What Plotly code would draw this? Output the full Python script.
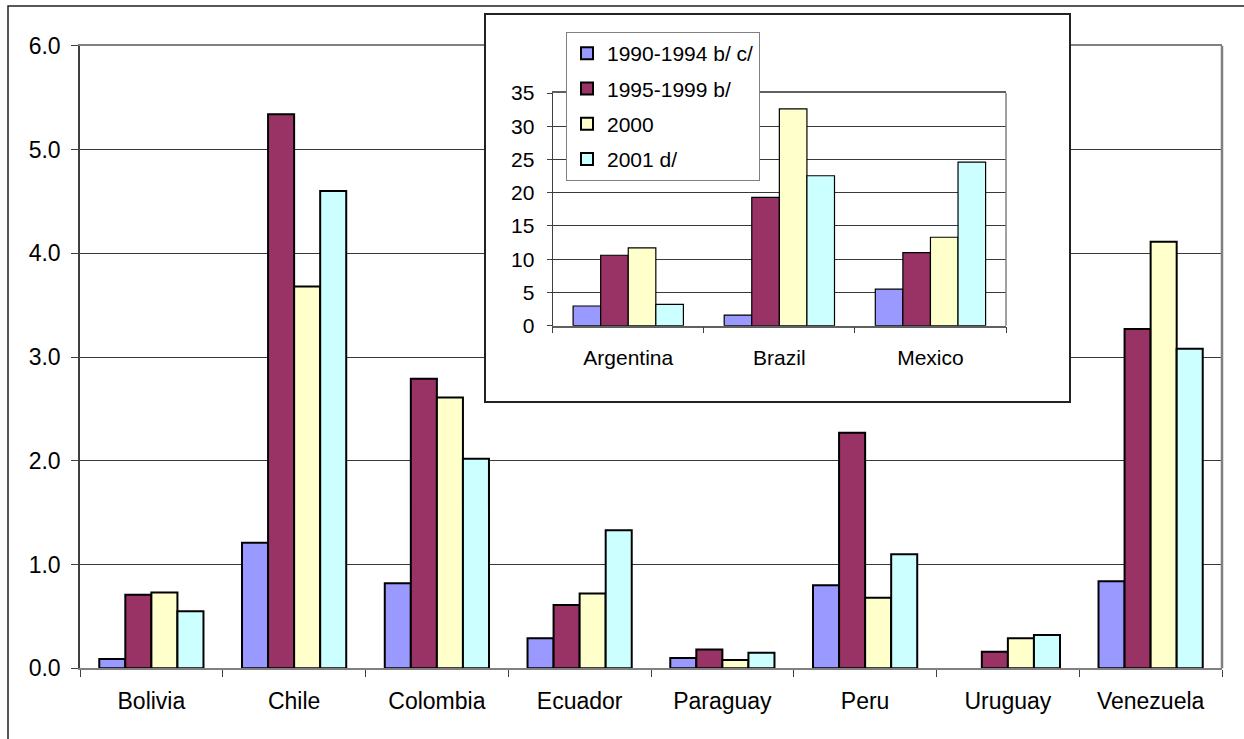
import plotly.graph_objects as go

# ---- data -------------------------------------------------------------
countries = ["Bolivia", "Chile", "Colombia", "Ecuador", "Paraguay", "Peru", "Uruguay", "Venezuela"]
v1990_94 = [0.09, 1.21, 0.82, 0.29, 0.10, 0.80, None, 0.84]
v1995_99 = [0.71, 5.34, 2.79, 0.61, 0.18, 2.27, 0.16, 3.27]
v2000 = [0.73, 3.68, 2.61, 0.72, 0.08, 0.68, 0.29, 4.11]
v2001 = [0.55, 4.60, 2.02, 1.33, 0.15, 1.10, 0.32, 3.08]

big_countries = ["Argentina", "Brazil", "Mexico"]
b1990_94 = [2.96, 1.6, 5.5]
b1995_99 = [10.6, 19.3, 11.0]
b2000 = [11.7, 32.6, 13.3]
b2001 = [3.2, 22.55, 24.6]

series_names = ["1990-1994 b/ c/", "1995-1999 b/", "2000", "2001 d/"]
colors = ["#9999FF", "#993366", "#FFFFCC", "#CCFFFF"]

# ---- pixel -> paper helpers (zero margins, paper = whole figure) -------
W, H = 1244, 739


def fx(px):
    return px / W


def fy(py):
    return 1 - py / H


FONT = "Liberation Sans, Arial, sans-serif"

fig = go.Figure()

main_vals = [v1990_94, v1995_99, v2000, v2001]
inset_vals = [b1990_94, b1995_99, b2000, b2001]

for i, name in enumerate(series_names):
    fig.add_trace(go.Bar(
        x=countries, y=main_vals[i], name=name,
        marker=dict(color=colors[i], line=dict(color="black", width=2)),
        legendgroup=f"g{i}", showlegend=True,
        xaxis="x", yaxis="y",
    ))

# blank subplot used as the white framed panel behind the inset chart
fig.add_trace(go.Scatter(x=[], y=[], xaxis="x2", yaxis="y2", showlegend=False, hoverinfo="skip"))

for i, name in enumerate(series_names):
    fig.add_trace(go.Bar(
        x=big_countries, y=inset_vals[i], name=name,
        marker=dict(color=colors[i], line=dict(color="black", width=1.2)),
        legendgroup=f"g{i}", showlegend=False,
        xaxis="x3", yaxis="y3",
    ))

grid_col = "#383838"

fig.update_layout(
    width=W, height=H, autosize=False,
    margin=dict(l=0, r=0, t=0, b=0, autoexpand=False),
    paper_bgcolor="white", plot_bgcolor="white",
    barmode="group", bargap=0.27, bargroupgap=0,
    font=dict(family=FONT, color="black", size=23),
    showlegend=True,
    legend=dict(
        x=fx(566), y=fy(32), xanchor="left", yanchor="top",
        bgcolor="white", bordercolor="#808080", borderwidth=1,
        font=dict(size=21, family=FONT), tracegroupgap=5,
        traceorder="grouped",
    ),
    # main chart
    xaxis=dict(
        domain=[fx(80), fx(1222)], anchor="y", automargin=False,
        showline=True, linecolor="#808080", linewidth=2, mirror=True,
        ticks="outside", tickson="boundaries", ticklen=7, tickcolor="#404040",
        showgrid=False, tickfont=dict(size=23), ticklabelstandoff=11,
    ),
    yaxis=dict(
        domain=[fy(668.3), fy(45.7)], anchor="x", automargin=False,
        range=[0, 6], dtick=1, tickformat=".1f",
        showline=True, linecolor="#404040", linewidth=1.5,
        ticks="outside", ticklen=7, tickcolor="#404040",
        showgrid=True, gridcolor=grid_col, gridwidth=1, zeroline=False,
        tickfont=dict(size=23), ticklabelstandoff=6,
    ),
    # framed panel
    xaxis2=dict(
        domain=[fx(486), fx(1069)], anchor="y2", range=[0, 1], automargin=False,
        showline=True, linecolor="#222222", linewidth=1.5, mirror=True,
        showgrid=False, zeroline=False, showticklabels=False, ticks="",
    ),
    yaxis2=dict(
        domain=[fy(400.5), fy(15)], anchor="x2", range=[0, 1], automargin=False,
        showline=True, linecolor="#222222", linewidth=1.5, mirror=True,
        showgrid=False, zeroline=False, showticklabels=False, ticks="",
    ),
    # inset chart
    xaxis3=dict(
        domain=[fx(552.7), fx(1006)], anchor="y3", automargin=False,
        showline=True, linecolor="#606060", linewidth=1.5, mirror=True,
        ticks="outside", tickson="boundaries", ticklen=6, tickcolor="#404040",
        showgrid=False, tickfont=dict(size=21), ticklabelstandoff=12,
    ),
    yaxis3=dict(
        domain=[fy(325.7), fy(93)], anchor="x3", automargin=False,
        range=[0, 35], dtick=5,
        showline=True, linecolor="#404040", linewidth=1.2,
        ticks="outside", ticklen=5, tickcolor="#404040",
        showgrid=True, gridcolor=grid_col, gridwidth=1, zeroline=False,
        tickfont=dict(size=21), ticklabelstandoff=8,
    ),
    shapes=[
        # outer frame
        dict(type="rect", xref="paper", yref="paper",
             x0=fx(8), x1=fx(1260), y0=fy(760), y1=fy(6),
             line=dict(color="#222222", width=1.5), layer="above"),
        # right edge of the main plot area
        dict(type="line", xref="paper", yref="paper",
             x0=fx(1222), x1=fx(1222), y0=fy(668.3), y1=fy(45.7),
             line=dict(color="#808080", width=2.5), layer="above"),
        # right edge of the inset plot area
        dict(type="line", xref="paper", yref="paper",
             x0=fx(1006), x1=fx(1006), y0=fy(325.7), y1=fy(93),
             line=dict(color="#808080", width=1.5), layer="above"),
    ],
)

fig.write_html("out.html")
